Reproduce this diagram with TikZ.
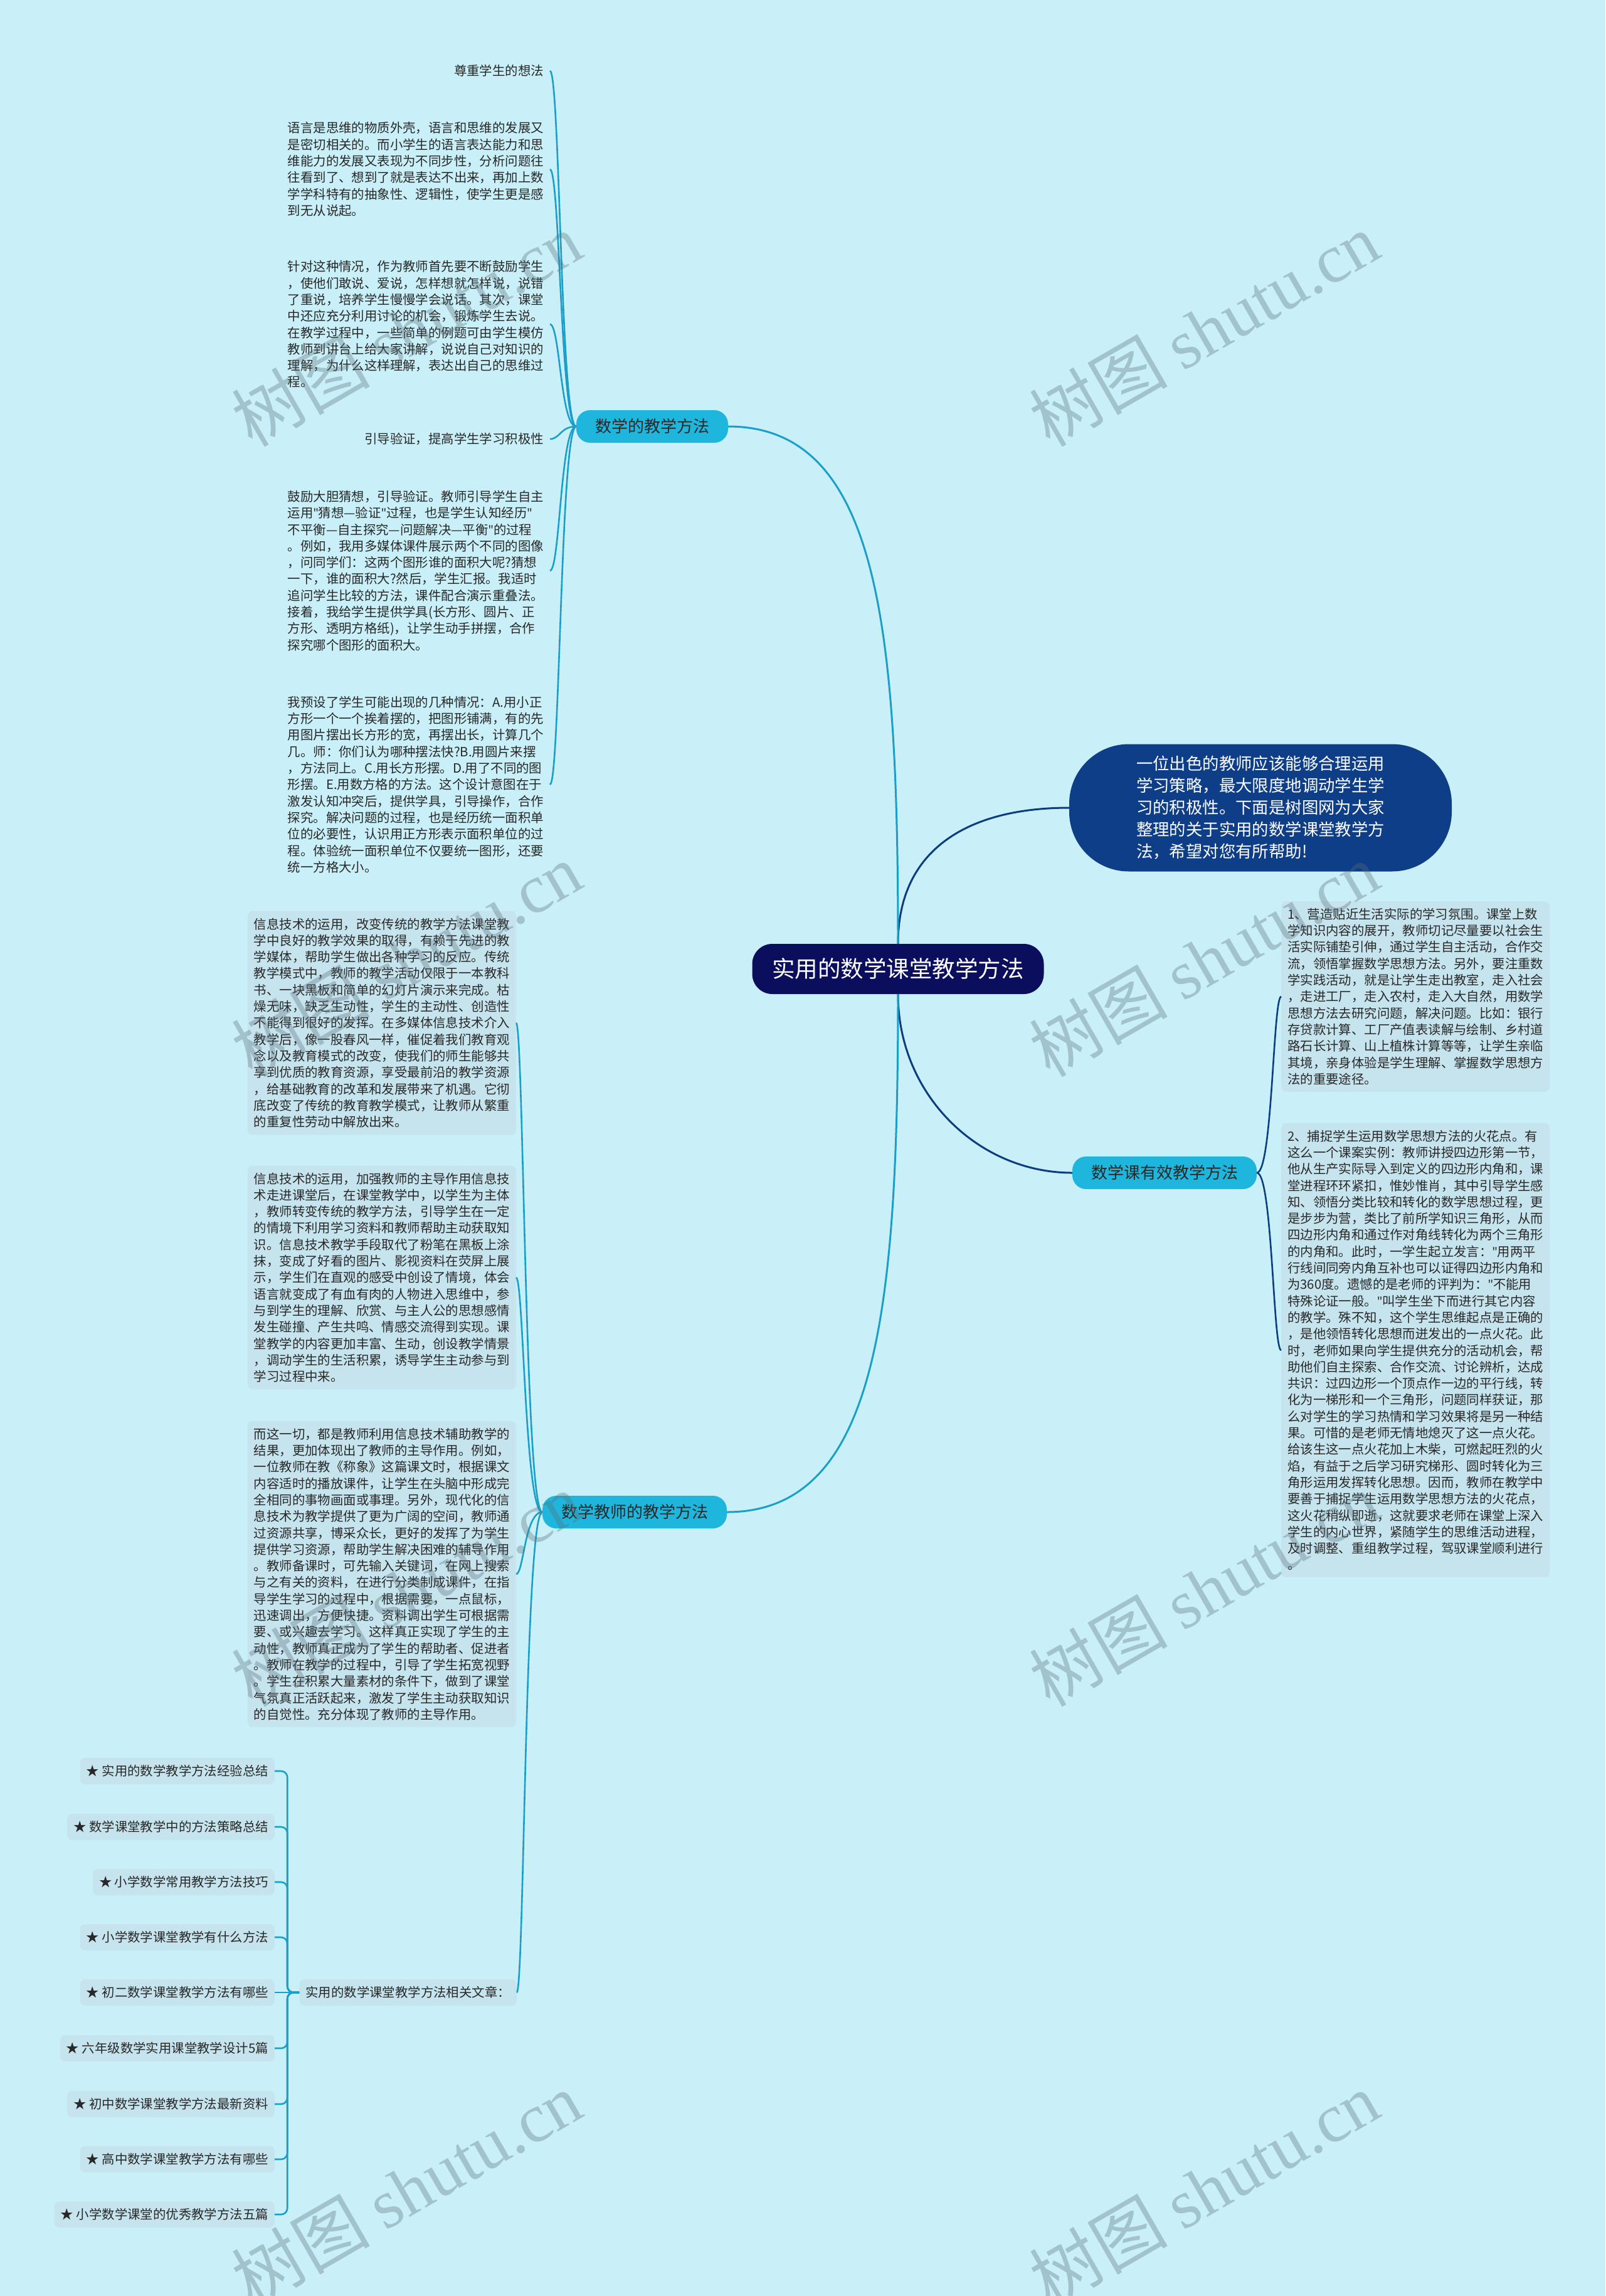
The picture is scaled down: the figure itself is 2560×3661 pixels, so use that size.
\documentclass[tikz,border=0pt]{standalone}
\usepackage{fontspec}
\setmainfont{Noto Sans CJK SC}
\newfontfamily\wmfont{Liberation Serif}
\newfontfamily\latinfont{Noto Sans}
\newcommand{\qt}{{\latinfont"}}
\usetikzlibrary{positioning, calc}

\definecolor{bgcyan}{RGB}{201,240,248}
\definecolor{rootnavy}{RGB}{10,14,92}
\definecolor{introblue}{RGB}{14,62,135}
\definecolor{topiccyan}{RGB}{30,182,220}
\definecolor{boxfill}{RGB}{198,228,238}
\definecolor{tealline}{RGB}{26,160,200}
\definecolor{darkline}{RGB}{12,60,130}
\definecolor{leaftext}{RGB}{40,40,40}
\definecolor{wmgray}{RGB}{90,112,122}

\begin{document}
\begin{tikzpicture}[x=1pt, y=-1pt,
  root/.style={rectangle, rounded corners=32pt, fill=rootnavy, text=white, minimum width=465pt, minimum height=80pt, font=\fontsize{36.5}{42}\selectfont},
  intro/.style={rectangle, rounded corners=95pt, fill=introblue, text=white, minimum width=610pt, minimum height=203pt, align=left, font=\fontsize{26.4}{35}\selectfont},
  topic/.style={rectangle, rounded corners=22pt, fill=topiccyan, text=leaftext, inner xsep=30pt, minimum height=52pt, font=\fontsize{26}{30}\selectfont},
  leaf/.style={align=left, inner xsep=10pt, inner ysep=11pt, text=leaftext, font=\fontsize{20.4}{26.3}\selectfont},
  leafbox/.style={leaf, fill=boxfill, rounded corners=8pt},
  item/.style={leafbox, anchor=east, minimum height=42pt},
  link/.style={draw=tealline, line width=2.6pt},
  darklink/.style={draw=darkline, line width=3pt},
  wmark/.style={rotate=30, text=wmgray, text opacity=0.35, font=\fontsize{110}{110}\selectfont}
]
\fill[bgcyan] (0,0) rectangle (2560,3661);
\useasboundingbox (0,0) rectangle (2560,3661);

% main nodes
\node[root] (root) at (1432,1545) {实用的数学课堂教学方法};
\node[intro] (intro) at (2010,1288) {一位出色的教师应该能够合理运用\\学习策略，最大限度地调动学生学\\习的积极性。下面是树图网为大家\\整理的关于实用的数学课堂教学方\\法，希望对您有所帮助!};
\node[topic] (method) at (1040,680) {数学的教学方法};
\node[topic] (teacher) at (1012,2411) {数学教师的教学方法};
\node[topic] (effect) at (1857,1870) {数学课有效教学方法};

\draw[darklink] (root.north) .. controls +(0,-155) and +(-155,0) .. (intro.west);
\draw[darklink] (root.south) .. controls +(0,160) and +(-150,0) .. (effect.west);
\draw[link, line width=3pt] (root.north) .. controls +(0,-505) and +(240,0) .. (method.east);
\draw[link, line width=3pt] (root.south) .. controls +(0,505) and +(240,0) .. (teacher.east);

% 数学的教学方法
\node[leaf, anchor=east] (respect) at (877,113) {尊重学生的想法};
\node[leaf, anchor=east] (lang) at (877,270) {语言是思维的物质外壳，语言和思维的发展又\\是密切相关的。而小学生的语言表达能力和思\\维能力的发展又表现为不同步性，分析问题往\\往看到了、想到了就是表达不出来，再加上数\\学学科特有的抽象性、逻辑性，使学生更是感\\到无从说起。};
\node[leaf, anchor=east] (encourage) at (877,517) {针对这种情况，作为教师首先要不断鼓励学生\\，使他们敢说、爱说，怎样想就怎样说，说错\\了重说，培养学生慢慢学会说话。其次，课堂\\中还应充分利用讨论的机会，锻炼学生去说。\\在教学过程中，一些简单的例题可由学生模仿\\教师到讲台上给大家讲解，说说自己对知识的\\理解，为什么这样理解，表达出自己的思维过\\程。};
\node[leaf, anchor=east] (guide) at (877,700) {引导验证，提高学生学习积极性};
\node[leaf, anchor=east] (guess) at (877,910) {鼓励大胆猜想，引导验证。教师引导学生自主\\运用\qt 猜想—验证\qt 过程，也是学生认知经历\qt\\不平衡—自主探究—问题解决—平衡\qt 的过程\\。例如，我用多媒体课件展示两个不同的图像\\，问同学们：这两个图形谁的面积大呢?猜想\\一下，谁的面积大?然后，学生汇报。我适时\\追问学生比较的方法，课件配合演示重叠法。\\接着，我给学生提供学具(长方形、圆片、正\\方形、透明方格纸)，让学生动手拼摆，合作\\探究哪个图形的面积大。};
\node[leaf, anchor=east] (preset) at (877,1251) {我预设了学生可能出现的几种情况：A.用小正\\方形一个一个挨着摆的，把图形铺满，有的先\\用图片摆出长方形的宽，再摆出长，计算几个\\几。师：你们认为哪种摆法快?B.用圆片来摆\\，方法同上。C.用长方形摆。D.用了不同的图\\形摆。E.用数方格的方法。这个设计意图在于\\激发认知冲突后，提供学具，引导操作，合作\\探究。解决问题的过程，也是经历统一面积单\\位的必要性，认识用正方形表示面积单位的过\\程。体验统一面积单位不仅要统一图形，还要\\统一方格大小。};

\draw[link] (method.west) .. controls +(-25,0) and +(16,0) .. (respect.east);
\draw[link] (method.west) .. controls +(-25,0) and +(16,0) .. (lang.east);
\draw[link] (method.west) .. controls +(-25,0) and +(16,0) .. (encourage.east);
\draw[link] (method.west) .. controls +(-25,0) and +(16,0) .. (guide.east);
\draw[link] (method.west) .. controls +(-25,0) and +(16,0) .. (guess.east);
\draw[link] (method.west) .. controls +(-25,0) and +(16,0) .. (preset.east);

% 数学教师的教学方法
\node[leafbox, anchor=east] (info1) at (823,1631) {信息技术的运用，改变传统的教学方法课堂教\\学中良好的教学效果的取得，有赖于先进的教\\学媒体，帮助学生做出各种学习的反应。传统\\教学模式中，教师的教学活动仅限于一本教科\\书、一块黑板和简单的幻灯片演示来完成。枯\\燥无味，缺乏生动性，学生的主动性、创造性\\不能得到很好的发挥。在多媒体信息技术介入\\教学后，像一股春风一样，催促着我们教育观\\念以及教育模式的改变，使我们的师生能够共\\享到优质的教育资源，享受最前沿的教学资源\\，给基础教育的改革和发展带来了机遇。它彻\\底改变了传统的教育教学模式，让教师从繁重\\的重复性劳动中解放出来。};
\node[leafbox, anchor=east] (info2) at (823,2037) {信息技术的运用，加强教师的主导作用信息技\\术走进课堂后，在课堂教学中，以学生为主体\\，教师转变传统的教学方法，引导学生在一定\\的情境下利用学习资料和教师帮助主动获取知\\识。信息技术教学手段取代了粉笔在黑板上涂\\抹，变成了好看的图片、影视资料在荧屏上展\\示，学生们在直观的感受中创设了情境，体会\\语言就变成了有血有肉的人物进入思维中，参\\与到学生的理解、欣赏、与主人公的思想感情\\发生碰撞、产生共鸣、情感交流得到实现。课\\堂教学的内容更加丰富、生动，创设教学情景\\，调动学生的生活积累，诱导学生主动参与到\\学习过程中来。};
\node[leafbox, anchor=east] (info3) at (823,2510) {而这一切，都是教师利用信息技术辅助教学的\\结果，更加体现出了教师的主导作用。例如，\\一位教师在教《称象》这篇课文时，根据课文\\内容适时的播放课件，让学生在头脑中形成完\\全相同的事物画面或事理。另外，现代化的信\\息技术为教学提供了更为广阔的空间，教师通\\过资源共享，博采众长，更好的发挥了为学生\\提供学习资源，帮助学生解决困难的辅导作用\\。教师备课时，可先输入关键词，在网上搜索\\与之有关的资料，在进行分类制成课件，在指\\导学生学习的过程中，根据需要，一点鼠标，\\迅速调出，方便快捷。资料调出学生可根据需\\要、或兴趣去学习。这样真正实现了学生的主\\动性，教师真正成为了学生的帮助者、促进者\\。教师在教学的过程中，引导了学生拓宽视野\\。学生在积累大量素材的条件下，做到了课堂\\气氛真正活跃起来，激发了学生主动获取知识\\的自觉性。充分体现了教师的主导作用。};
\node[leafbox, anchor=east, minimum height=42pt] (related) at (824,3177) {实用的数学课堂教学方法相关文章：};

\draw[link] (teacher.west) .. controls +(-28,0) and +(12,0) .. (info1.east);
\draw[link] (teacher.west) .. controls +(-28,0) and +(12,0) .. (info2.east);
\draw[link] (teacher.west) .. controls +(-28,0) and +(12,0) .. (info3.east);
\draw[link] (teacher.west) .. controls +(-28,0) and +(12,0) .. (related.east);

% related articles
\node[item] (rel1) at (438,2824) {★ 实用的数学教学方法经验总结};
\node[item] (rel2) at (438,2913) {★ 数学课堂教学中的方法策略总结};
\node[item] (rel3) at (438,3001) {★ 小学数学常用教学方法技巧};
\node[item] (rel4) at (438,3089) {★ 小学数学课堂教学有什么方法};
\node[item] (rel5) at (438,3177) {★ 初二数学课堂教学方法有哪些};
\node[item] (rel6) at (438,3266) {★ 六年级数学实用课堂教学设计5篇};
\node[item] (rel7) at (438,3355) {★ 初中数学课堂教学方法最新资料};
\node[item] (rel8) at (438,3443) {★ 高中数学课堂教学方法有哪些};
\node[item] (rel9) at (438,3531) {★ 小学数学课堂的优秀教学方法五篇};

\draw[link, rounded corners=10pt] (related.west) -- ++(-19,0) |- (rel1.east);
\draw[link, rounded corners=10pt] (related.west) -- ++(-19,0) |- (rel2.east);
\draw[link, rounded corners=10pt] (related.west) -- ++(-19,0) |- (rel3.east);
\draw[link, rounded corners=10pt] (related.west) -- ++(-19,0) |- (rel4.east);
\draw[link] (related.west) -- (rel5.east);
\draw[link, rounded corners=10pt] (related.west) -- ++(-19,0) |- (rel6.east);
\draw[link, rounded corners=10pt] (related.west) -- ++(-19,0) |- (rel7.east);
\draw[link, rounded corners=10pt] (related.west) -- ++(-19,0) |- (rel8.east);
\draw[link, rounded corners=10pt] (related.west) -- ++(-19,0) |- (rel9.east);

% 数学课有效教学方法
\node[leafbox, anchor=west] (eff1) at (2043,1589) {1、营造贴近生活实际的学习氛围。课堂上数\\学知识内容的展开，教师切记尽量要以社会生\\活实际铺垫引伸，通过学生自主活动，合作交\\流，领悟掌握数学思想方法。另外，要注重数\\学实践活动，就是让学生走出教室，走入社会\\，走进工厂，走入农村，走入大自然，用数学\\思想方法去研究问题，解决问题。比如：银行\\存贷款计算、工厂产值表读解与绘制、乡村道\\路石长计算、山上植株计算等等，让学生亲临\\其境，亲身体验是学生理解、掌握数学思想方\\法的重要途径。};
\node[leafbox, anchor=west] (eff2) at (2043,2153) {2、捕捉学生运用数学思想方法的火花点。有\\这么一个课案实例：教师讲授四边形第一节，\\他从生产实际导入到定义的四边形内角和，课\\堂进程环环紧扣，惟妙惟肖，其中引导学生感\\知、领悟分类比较和转化的数学思想过程，更\\是步步为营，类比了前所学知识三角形，从而\\四边形内角和通过作对角线转化为两个三角形\\的内角和。此时，一学生起立发言：\qt 用两平\\行线间同旁内角互补也可以证得四边形内角和\\为360度。遗憾的是老师的评判为：\qt 不能用\\特殊论证一般。\qt 叫学生坐下而进行其它内容\\的教学。殊不知，这个学生思维起点是正确的\\，是他领悟转化思想而迸发出的一点火花。此\\时，老师如果向学生提供充分的活动机会，帮\\助他们自主探索、合作交流、讨论辨析，达成\\共识：过四边形一个顶点作一边的平行线，转\\化为一梯形和一个三角形，问题同样获证，那\\么对学生的学习热情和学习效果将是另一种结\\果。可惜的是老师无情地熄灭了这一点火花。\\给该生这一点火花加上木柴，可燃起旺烈的火\\焰，有益于之后学习研究梯形、圆时转化为三\\角形运用发挥转化思想。因而，教师在教学中\\要善于捕捉学生运用数学思想方法的火花点，\\这火花稍纵即逝，这就要求老师在课堂上深入\\学生的内心世界，紧随学生的思维活动进程，\\及时调整、重组教学过程，驾驭课堂顺利进行\\。};

\draw[darklink, line width=2.6pt] (effect.east) .. controls +(25,0) and +(-13,0) .. (eff1.west);
\draw[darklink, line width=2.6pt] (effect.east) .. controls +(25,0) and +(-13,0) .. (eff2.west);

% watermarks
\node[wmark] (wm1) at (648,525) {树图 {\wmfont shutu.cn}};
\node[wmark] (wm2) at (1920,525) {树图 {\wmfont shutu.cn}};
\node[wmark] (wm3) at (648,1530) {树图 {\wmfont shutu.cn}};
\node[wmark] (wm4) at (1920,1530) {树图 {\wmfont shutu.cn}};
\node[wmark] (wm5) at (648,2534) {树图 {\wmfont shutu.cn}};
\node[wmark] (wm6) at (1920,2534) {树图 {\wmfont shutu.cn}};
\node[wmark] (wm7) at (648,3490) {树图 {\wmfont shutu.cn}};
\node[wmark] (wm8) at (1920,3490) {树图 {\wmfont shutu.cn}};
\end{tikzpicture}
\end{document}
